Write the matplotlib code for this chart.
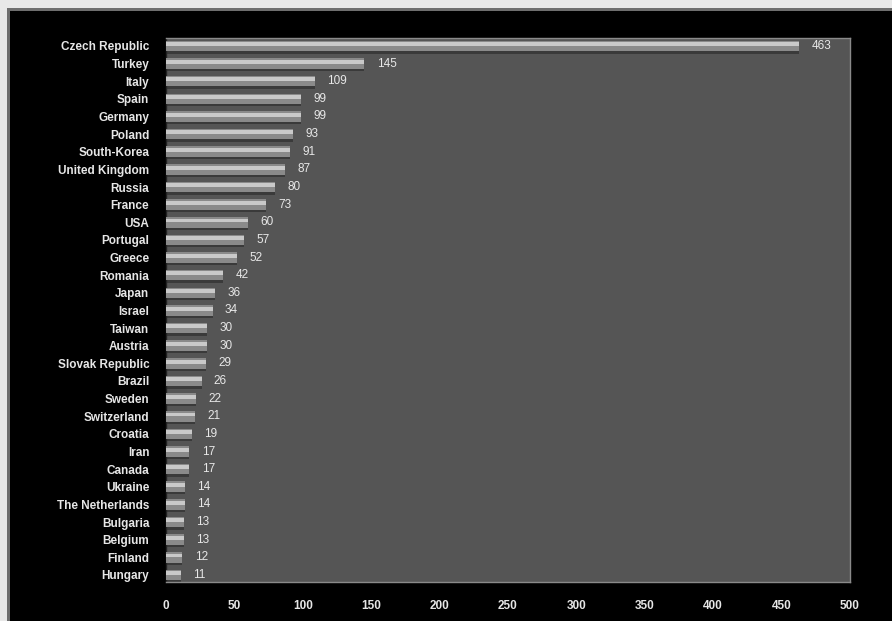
import matplotlib.pyplot as plt
from matplotlib.patches import Rectangle

countries = ["Czech Republic", "Turkey", "Italy", "Spain", "Germany", "Poland",
             "South-Korea", "United Kingdom", "Russia", "France", "USA", "Portugal",
             "Greece", "Romania", "Japan", "Israel", "Taiwan", "Austria",
             "Slovak Republic", "Brazil", "Sweden", "Switzerland", "Croatia", "Iran",
             "Canada", "Ukraine", "The Netherlands", "Bulgaria", "Belgium", "Finland",
             "Hungary"]
values = [463, 145, 109, 99, 99, 93, 91, 87, 80, 73, 60, 57, 52, 42, 36, 34, 30, 30,
          29, 26, 22, 21, 19, 17, 17, 14, 14, 13, 13, 12, 11]
xticks = [0, 50, 100, 150, 200, 250, 300, 350, 400, 450, 500]

plt.rcParams['font.family'] = ['Liberation Sans', 'DejaVu Sans']

W, H = 892, 621
fig = plt.figure(figsize=(W / 100, H / 100), dpi=100)
fig.patch.set_facecolor('#e8e8e8')
# grey bevel line and black panel (light frame only on left/top)
fig.patches.append(Rectangle((7 / W, 0), 1, 1 - 8 / H, transform=fig.transFigure,
                             facecolor='#6e6e6e', edgecolor='none', zorder=-6))
fig.patches.append(Rectangle((10 / W, 0), 1, 1 - 11 / H, transform=fig.transFigure,
                             facecolor='black', edgecolor='none', zorder=-5))

ax = fig.add_axes([166 / W, 1 - 582 / H, (850 - 166) / W, (582 - 38) / H])
ax.set_zorder(2)
ax.set_facecolor('#555555')

y = list(range(len(countries)))

# shadow, body and highlight to mimic the bevelled bars
ax.barh([i + 0.12 for i in y], values, height=0.62, color='#3a3a3a', zorder=2)
ax.barh(y, values, height=0.6, color='#8a8a8a', zorder=3)
ax.barh([i - 0.1 for i in y], values, height=0.22, color='#c9c9c9', zorder=4)

for i, v in enumerate(values):
    ax.text(v + 9, i, str(v), color='#e8e8e8', fontsize=8.5, va='center', ha='left',
            zorder=5)

ax.set_xlim(0, 500)
ax.set_ylim(len(countries) - 0.6, -0.45)
ax.set_yticks(y)
ax.set_yticklabels(countries, fontsize=8.5, fontweight='bold', color='#e6e6e6')
ax.set_xticks(xticks)
ax.set_xticklabels([str(t) for t in xticks], fontsize=8.5, fontweight='bold',
                   color='#e6e6e6')
ax.tick_params(axis='both', length=0)
ax.tick_params(axis='x', pad=13)
ax.tick_params(axis='y', pad=12)
for s in ax.spines.values():
    s.set_color('#8a8a8a')
    s.set_linewidth(1)
ax.spines['left'].set_color('#222222')

fig.savefig('out.png', dpi=100, facecolor=fig.get_facecolor())
